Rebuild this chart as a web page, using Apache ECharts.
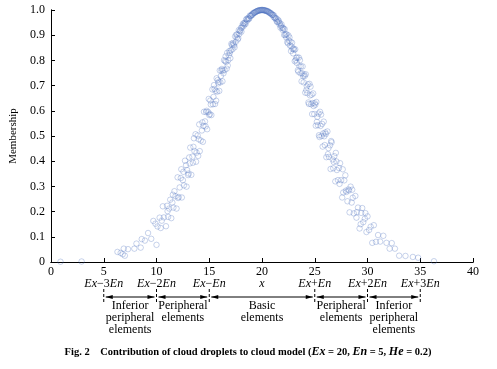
<!DOCTYPE html>
<html><head><meta charset="utf-8">
<script src="https://cdn.jsdelivr.net/npm/echarts@6/dist/echarts.min.js"></script>
<style>html,body{margin:0;padding:0;background:#fff}#c{width:497px;height:369px}</style>
</head><body><div id="c"></div>
<script>
// cloud droplets [x, membership]
const droplets = [
[0.9,0.001],[2.9,0.002],
[6.3,0.040],[6.6,0.036],[6.8,0.031],[6.9,0.053],[7.0,0.025],[7.3,0.051],[7.9,0.053],[8.1,0.073],[8.5,0.057],[8.6,0.091],[8.9,0.085],[9.2,0.115],[9.5,0.092],[9.7,0.163],[10.0,0.068],[10.1,0.141],[10.3,0.176],[10.4,0.135],[10.6,0.221],[10.7,0.177],[10.9,0.142],[11.0,0.223],[11.1,0.179],[11.2,0.212],[11.3,0.247],[11.4,0.174],[11.5,0.236],[11.6,0.216],[11.7,0.281],[11.8,0.261],[11.9,0.212],[12.0,0.336],[12.1,0.258],[12.2,0.296],[12.3,0.333],[12.4,0.256],[12.5,0.325],[12.6,0.304],[12.7,0.402],[12.8,0.384],[12.85,0.299],[12.9,0.365],[13.0,0.345],[13.1,0.415],[13.15,0.391],[13.2,0.454],[13.3,0.346],[13.4,0.418],[13.45,0.394],[13.5,0.457],[13.6,0.440],[13.7,0.507],[13.75,0.398],[13.8,0.434],[13.9,0.502],[14.0,0.487],[14.05,0.546],[14.1,0.440],[14.2,0.482],[14.3,0.522],[14.35,0.554],[14.4,0.477],[14.5,0.596],[14.6,0.558],[14.65,0.538],[14.7,0.595],[14.8,0.527],[14.9,0.595],[14.95,0.647],[15.0,0.583],[15.1,0.641],[15.15,0.625],[15.2,0.583],[15.3,0.685],[15.35,0.626],[15.4,0.655],[15.5,0.687],[15.55,0.627],[15.6,0.679],[15.7,0.729],[15.75,0.676],[15.8,0.722],[15.9,0.715],[15.95,0.679],[16.0,0.760],[16.05,0.713],[16.1,0.738],[16.2,0.766],[16.25,0.717],[16.3,0.760],[16.4,0.801],[16.45,0.761],[16.5,0.797],[16.6,0.794],[16.65,0.767],[16.7,0.830],[16.8,0.801],[16.85,0.820],[16.9,0.837],[17.0,0.809],[17.05,0.840],[17.1,0.866],[17.2,0.844],[17.25,0.869],[17.3,0.864],[17.4,0.852],[17.45,0.895],[17.5,0.873],[17.6,0.891],[17.65,0.903],[17.7,0.883],[17.8,0.920],[17.85,0.905],[17.9,0.916],[18.0,0.929],[18.05,0.914],[18.1,0.930],[18.2,0.946],[18.25,0.936],[18.3,0.948],[18.4,0.950],[18.45,0.945],[18.5,0.962],[18.6,0.958],[18.65,0.964],[18.7,0.969],[18.8,0.967],[18.85,0.978],[18.9,0.976],[19.0,0.978],[19.05,0.983],[19.1,0.981],[19.2,0.987],[19.25,0.990],[19.3,0.989],[19.4,0.993],[19.45,0.993],[19.5,0.995],[19.6,0.997],[19.7,0.998],[19.75,0.999],[19.8,0.999],[19.9,1.0],[20.0,1.0],
[9.9,0.152],[10.5,0.164],[11.05,0.202],[11.55,0.267],[12.05,0.254],[12.35,0.368],[12.55,0.358],[13.05,0.351],[13.55,0.491],[13.95,0.421],[14.45,0.540],[14.75,0.600],[15.05,0.587],[15.45,0.702],[15.65,0.640],[15.85,0.709],[16.15,0.760],[16.35,0.749],[16.55,0.816],[16.75,0.780],[16.95,0.830],[17.15,0.861],[17.35,0.859],[17.55,0.902],[17.75,0.888],[17.95,0.919],[18.15,0.939],[18.35,0.943],[18.55,0.965],[18.75,0.964],[18.95,0.978],[19.15,0.987],[19.35,0.991],[19.55,0.996],[19.65,0.997],[19.85,0.999],[19.95,1.0],
[20.05,1.0],[20.1,1.0],[20.15,0.999],[20.25,0.999],[20.3,0.998],[20.35,0.998],[20.45,0.995],[20.5,0.996],[20.55,0.994],[20.65,0.991],[20.7,0.991],[20.75,0.987],[20.85,0.988],[20.9,0.984],[20.95,0.981],[21.05,0.980],[21.1,0.972],[21.15,0.978],[21.25,0.969],[21.3,0.964],[21.35,0.967],[21.45,0.952],[21.5,0.962],[21.55,0.953],[21.65,0.943],[21.7,0.948],[21.75,0.930],[21.85,0.943],[21.9,0.930],[21.95,0.921],[22.05,0.925],[22.1,0.901],[22.15,0.924],[22.25,0.904],[22.3,0.891],[22.35,0.903],[22.45,0.868],[22.5,0.899],[22.55,0.878],[22.65,0.859],[22.7,0.874],[22.75,0.837],[22.85,0.870],[22.9,0.845],[22.95,0.828],[23.05,0.842],[23.1,0.797],[23.15,0.844],[23.25,0.810],[23.3,0.790],[23.35,0.812],[23.45,0.755],[23.5,0.811],[23.55,0.777],[23.65,0.749],[23.7,0.776],[23.75,0.717],[23.85,0.776],[23.9,0.738],[23.95,0.713],[24.05,0.738],[24.1,0.672],[24.15,0.745],[24.25,0.697],[24.3,0.670],[24.35,0.705],[24.45,0.627],[24.5,0.707],[24.55,0.661],[24.65,0.626],[24.7,0.664],[24.75,0.587],[24.85,0.669],[24.9,0.619],[24.95,0.587],[25.05,0.624],[25.1,0.541],[25.15,0.635],[25.25,0.576],[25.3,0.543],[25.35,0.589],[25.45,0.496],[25.5,0.596],[25.55,0.540],[25.65,0.500],[25.7,0.548],[25.75,0.458],[25.85,0.557],[25.9,0.499],[25.95,0.464],[26.05,0.508],[26.1,0.416],[26.2,0.518],[26.3,0.452],[26.35,0.417],[26.45,0.463],[26.5,0.369],[26.6,0.475],[26.7,0.407],[26.75,0.372],[26.85,0.420],[26.95,0.320],[27.0,0.433],[27.1,0.365],[27.2,0.325],[27.3,0.373],[27.4,0.392],[27.5,0.325],[27.6,0.256],[27.7,0.276],[27.8,0.324],[27.9,0.344],[28.0,0.278],[28.1,0.241],[28.2,0.288],[28.3,0.197],[28.4,0.299],[28.5,0.236],[28.6,0.255],[28.7,0.193],[28.85,0.262],[29.0,0.198],[29.1,0.216],[29.25,0.133],[29.35,0.150],[29.5,0.214],[29.6,0.158],[29.75,0.172],[29.9,0.119],[30.0,0.181],[30.15,0.127],[30.3,0.140],[30.45,0.076],[30.6,0.146],[30.8,0.080],[31.0,0.107],[31.2,0.081],[31.5,0.104],[31.8,0.076],[32.1,0.053],[32.3,0.075],[32.6,0.053],[33.0,0.025],[33.6,0.024],[34.3,0.020],[34.8,0.017],[36.3,0.003],
[20.2,0.999],[20.4,0.996],[20.6,0.994],[20.8,0.987],[21.0,0.982],[21.2,0.969],[21.4,0.955],[21.6,0.957],[21.8,0.937],[22.0,0.929],[22.2,0.900],[22.4,0.873],[22.6,0.891],[22.8,0.855],[23.0,0.847],[23.2,0.801],[23.4,0.761],[23.6,0.801],[23.8,0.749],[24.0,0.744],[24.2,0.682],[24.4,0.633],[24.6,0.696],[24.8,0.631],[25.0,0.630],[25.2,0.556],[25.4,0.503],[25.6,0.585],[25.8,0.510],[26.0,0.514],[26.25,0.428],[26.55,0.480],[26.8,0.397],[27.05,0.399],[27.35,0.310],[27.65,0.368],[27.95,0.283],[28.25,0.284],[28.55,0.287],[28.95,0.176],[29.4,0.195],[29.8,0.194]
];
const xTicks = [0,5,10,15,20,25,30,35,40];
const exLabels = {5:'{i|Ex}−3{i|En}',10:'{i|Ex}−2{i|En}',15:'{i|Ex}−{i|En}',20:'{i|x}',25:'{i|Ex}+{i|En}',30:'{i|Ex}+2{i|En}',35:'{i|Ex}+3{i|En}'};
const boundaries = [5,10,15,25,30,35];
const regions = [
  {from:5,to:10,text:'Inferior\nperipheral\nelements'},
  {from:10,to:15,text:'Peripheral\nelements'},
  {from:15,to:25,text:'Basic\nelements'},
  {from:25,to:30,text:'Peripheral\nelements'},
  {from:30,to:35,text:'Inferior\nperipheral\nelements'}
];
const caption = 'Fig. 2    Contribution of cloud droplets to cloud model ({bi|Ex} = 20, {bi|En} = 5, {bi|He} = 0.2)';

const FONT = '"Liberation Serif","DejaVu Serif",serif';
const chart = echarts.init(document.getElementById('c'));
const axisLine = {show:true,lineStyle:{color:'#000',width:1}};
chart.setOption({
  animation:false,
  grid:{left:51,right:24,top:10,bottom:107,show:false},
  xAxis:[{type:'value',min:0,max:40,interval:5,axisLine:axisLine,
    axisTick:{inside:true,length:4,lineStyle:{color:'#000'}},splitLine:{show:false},
    axisLabel:{margin:4,color:'#000',fontFamily:FONT,fontSize:12,lineHeight:12,
      formatter:v=>exLabels[v]?(v+'\n'+exLabels[v]):String(v),
      rich:{i:{fontStyle:'italic',fontFamily:FONT,fontSize:12,color:'#000',lineHeight:12}}}},
    {type:'value',position:'top',min:0,max:40,axisLine:axisLine,axisTick:{show:false},axisLabel:{show:false},splitLine:{show:false}}],
  yAxis:[{type:'value',min:0,max:1,interval:0.1,axisLine:axisLine,
    axisTick:{inside:true,length:4,lineStyle:{color:'#000'}},splitLine:{show:false},
    axisLabel:{margin:6,color:'#000',fontFamily:FONT,fontSize:12,formatter:v=>v===0?'0':v.toFixed(1)},
    name:'Membership',nameLocation:'middle',nameGap:30,nameRotate:90,
    nameTextStyle:{color:'#000',fontFamily:FONT,fontSize:11}},
    {type:'value',position:'right',min:0,max:1,axisLine:axisLine,axisTick:{show:false},axisLabel:{show:false},splitLine:{show:false}}],
  series:[{type:'scatter',data:droplets,symbol:'circle',symbolSize:5.5,
    itemStyle:{color:'rgba(255,255,255,0)',borderColor:'rgba(75,110,190,0.55)',borderWidth:0.7}}]
});

const px = v => chart.convertToPixel({xAxisIndex:0}, v);
const g = [];
const lineY = 297;
boundaries.forEach(b=>{
  g.push({type:'line',shape:{x1:px(b),y1:289,x2:px(b),y2:303},style:{stroke:'#000',lineWidth:1,lineDash:[3,2]}});
});
regions.forEach(r=>{
  const a = px(r.from)+2, b = px(r.to)-2;
  g.push({type:'line',shape:{x1:a,y1:lineY,x2:b,y2:lineY},style:{stroke:'#000',lineWidth:1}});
  g.push({type:'polygon',shape:{points:[[a,lineY],[a+7,lineY-2],[a+7,lineY+2]]},style:{fill:'#000'}});
  g.push({type:'polygon',shape:{points:[[b,lineY],[b-7,lineY-2],[b-7,lineY+2]]},style:{fill:'#000'}});
  g.push({type:'text',x:(px(r.from)+px(r.to))/2,y:300,style:{text:r.text,fill:'#000',font:'12px '+FONT,align:'center',verticalAlign:'top',lineHeight:12}});
});
g.push({type:'text',x:248,y:352,style:{text:caption,fill:'#000',fontFamily:FONT,fontSize:10.5,fontWeight:'bold',align:'center',verticalAlign:'middle',
  rich:{bi:{fontFamily:FONT,fontSize:12,fontWeight:'bold',fontStyle:'italic',fill:'#000'}}}});
chart.setOption({graphic:g});
</script></body></html>
